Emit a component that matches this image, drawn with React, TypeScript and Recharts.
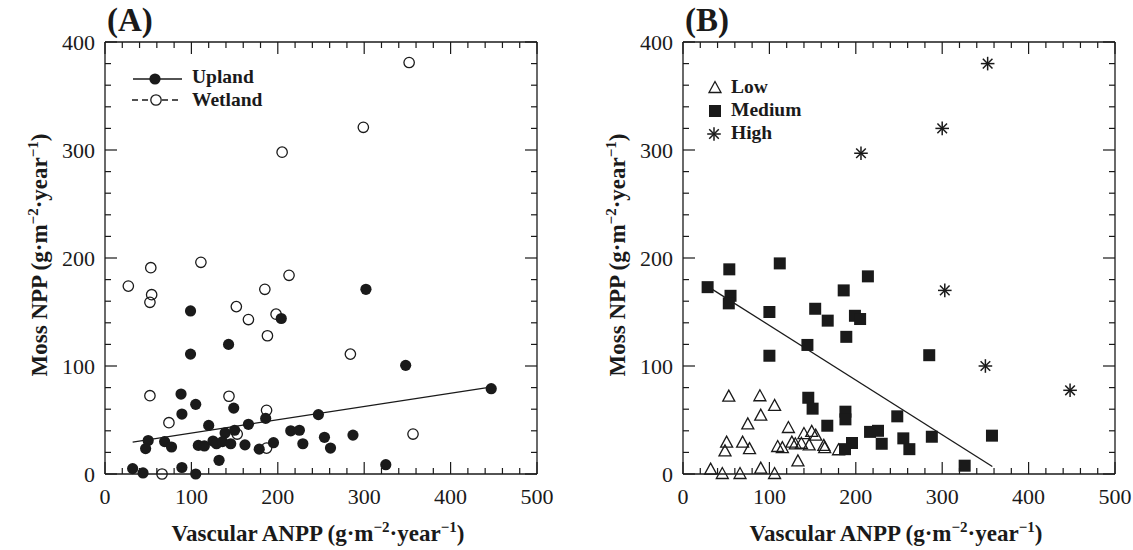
import { ScatterChart, Scatter, XAxis, YAxis, ReferenceLine } from 'recharts';

// Panel A: moss NPP vs vascular ANPP, split by site type
const upland: [number, number][] = [
  [99, 151], [99, 111], [143, 120], [204, 144], [88, 74], [105, 64.5], [89, 55.5], [149, 61],
  [120, 45], [166, 46], [186, 51.5], [139, 38], [150, 40.5], [50, 31], [47, 23.5], [69, 30],
  [77, 25], [108, 26.5], [115, 26], [125, 30.5], [129, 28], [136, 30], [145.5, 28], [162, 27],
  [178.5, 23], [195, 29], [215, 40], [225, 40.5], [229, 28], [132, 12.7], [32, 5], [44, 1],
  [89, 6], [105, 0], [302, 171], [348, 100.6], [447, 79], [247, 55], [254, 34], [261, 24],
  [287, 36], [325, 8.6],
];
const wetland: [number, number][] = [
  [27, 174], [53, 191], [54, 166], [52, 159], [111, 196], [213, 184], [185, 171], [152, 155],
  [166, 143], [198, 148], [188, 128], [52, 72.5], [143.5, 72], [74, 47.5], [187, 59], [153, 37],
  [187, 24], [66, 0], [205, 298], [352, 381], [299, 321], [284, 111], [356.5, 37],
];
const uplandFit: [number, number][] = [[32, 29.5], [450, 81]];

// Panel B: same data split by productivity class
const low: [number, number][] = [
  [53, 71.6], [89, 72], [106, 63], [90, 54], [75, 46], [122, 42.6], [140, 37], [149, 39],
  [153.6, 35.5], [50.5, 29], [48.6, 21], [69, 29], [77, 23], [109.6, 25], [115, 24], [126, 29],
  [130, 27.5], [137, 28], [146, 26.5], [163, 26], [164, 24], [180, 22], [133, 11.7], [32, 4],
  [45.5, 0], [66, 0], [90, 5], [106, 0],
];
const medium: [number, number][] = [
  [28.5, 173], [53.6, 189.5], [55, 165], [53, 158], [112, 195], [214, 183], [186, 170], [153, 153],
  [167.5, 142], [199, 146.5], [205, 143.5], [189, 127], [100, 150], [144, 119.5], [100, 109.5],
  [145, 70.6], [150, 60.5], [188, 57.7], [188, 50.6], [167, 44.7], [216.5, 39], [225.7, 40],
  [230, 28], [195.6, 28.7], [187.5, 23], [285, 110], [248, 53.4], [255, 33], [262, 23],
  [288, 34.5], [357.6, 35.5], [326, 7.7],
];
const high: [number, number][] = [
  [206, 297], [352.6, 380], [300, 320], [303, 170], [350, 100], [448, 77.5],
];
const mediumFit: [number, number][] = [[28, 174], [358, 7]];

const xTicks = [0, 20, 40, 60, 80, 100, 120, 140, 160, 180, 200, 220, 240, 260, 280, 300, 320, 340, 360, 380, 400, 420, 440, 460, 480, 500];
const yTicks = [0, 20, 40, 60, 80, 100, 120, 140, 160, 180, 200, 220, 240, 260, 280, 300, 320, 340, 360, 380, 400];

const INK = '#1a1a1a';
const SERIF = '"Liberation Serif", "Times New Roman", serif';
const PLOT = 432; // plot area is square, in px

const toPts = (a: [number, number][]) => a.map(([x, y]) => ({ x, y }));

const XTick = (props: any) => {
  const { x, y, payload } = props;
  const v = payload.value;
  const major = v % 100 === 0;
  const len = major ? 12 : 6;
  return (
    <g>
      <line x1={x} x2={x} y1={y} y2={y - len} stroke={INK} strokeWidth={1.2} />
      <line x1={x} x2={x} y1={y - PLOT} y2={y - PLOT + len} stroke={INK} strokeWidth={1.2} />
      {major && (
        <text x={x} y={y + 30} textAnchor="middle" fontSize={22} fill={INK} fontFamily={SERIF}>{v}</text>
      )}
    </g>
  );
};

const YTick = (props: any) => {
  const { x, y, payload } = props;
  const v = payload.value;
  const major = v % 100 === 0;
  const len = major ? 12 : 6;
  return (
    <g>
      <line x1={x} x2={x + len} y1={y} y2={y} stroke={INK} strokeWidth={1.2} />
      <line x1={x + PLOT} x2={x + PLOT - len} y1={y} y2={y} stroke={INK} strokeWidth={1.2} />
      {major && (
        <text x={x - 10} y={y} dy="0.35em" textAnchor="end" fontSize={22} fill={INK} fontFamily={SERIF}>{v}</text>
      )}
    </g>
  );
};

const FilledDot = (p: any) => <circle cx={p.cx} cy={p.cy} r={5.6} fill={INK} />;
const OpenDot = (p: any) => <circle cx={p.cx} cy={p.cy} r={5.2} fill="none" stroke={INK} strokeWidth={1.3} />;
const Tri = (p: any) => (
  <polygon
    points={`${p.cx},${p.cy - 6.5} ${p.cx - 6},${p.cy + 4.5} ${p.cx + 6},${p.cy + 4.5}`}
    fill="none" stroke={INK} strokeWidth={1.3}
  />
);
const Square = (p: any) => <rect x={p.cx - 6} y={p.cy - 6} width={12} height={12} fill={INK} />;
const Star = (p: any) => {
  const r = 6.8;
  const d = r * 0.707;
  const { cx, cy } = p;
  return (
    <g stroke={INK} strokeWidth={1.5}>
      <line x1={cx} y1={cy - r} x2={cx} y2={cy + r} />
      <line x1={cx - r} y1={cy} x2={cx + r} y2={cy} />
      <line x1={cx - d} y1={cy - d} x2={cx + d} y2={cy + d} />
      <line x1={cx - d} y1={cy + d} x2={cx + d} y2={cy - d} />
    </g>
  );
};

function Panel({ width, right, children, fit }: { width: number; right: number; children: React.ReactNode; fit: [number, number][] }) {
  return (
    <ScatterChart width={width} height={550} margin={{ top: 42, right, left: 0, bottom: 0 }}>
      <XAxis
        type="number" dataKey="x" domain={[0, 500]} ticks={xTicks} interval={0}
        tickLine={false} tickSize={0} tickMargin={0} height={76}
        axisLine={{ stroke: INK, strokeWidth: 1.3 }} tick={(p: any) => <XTick {...p} />}
      />
      <YAxis
        type="number" dataKey="y" domain={[0, 400]} ticks={yTicks} interval={0}
        tickLine={false} tickSize={0} tickMargin={0} width={105}
        axisLine={{ stroke: INK, strokeWidth: 1.3 }} tick={(p: any) => <YTick {...p} />}
      />
      <ReferenceLine y={400} stroke={INK} strokeWidth={1.3} />
      <ReferenceLine x={500} stroke={INK} strokeWidth={1.3} />
      <ReferenceLine
        segment={[{ x: fit[0][0], y: fit[0][1] }, { x: fit[1][0], y: fit[1][1] }]}
        stroke={INK} strokeWidth={1.3} ifOverflow="visible"
      />
      {children}
    </ScatterChart>
  );
}

const Units = ({ sup }: { sup: number }) => (
  <>
    <tspan>(g·m</tspan>
    <tspan dy={-sup} fontSize={15}>−2</tspan>
    <tspan dy={sup}>·year</tspan>
    <tspan dy={-sup} fontSize={15}>−1</tspan>
    <tspan dy={sup}>)</tspan>
  </>
);

export default function App() {
  const B = 578; // horizontal offset of panel B
  return (
    <div style={{ position: 'absolute', left: 0, top: 0, width: 1133, height: 550, background: '#fff', overflow: 'hidden', fontFamily: SERIF }}>
      <div style={{ position: 'absolute', left: 0, top: 0 }}>
        <Panel width={560} right={23} fit={uplandFit}>
          <Scatter data={toPts(wetland)} shape={OpenDot} isAnimationActive={false} />
          <Scatter data={toPts(upland)} shape={FilledDot} isAnimationActive={false} />
        </Panel>
      </div>
      <div style={{ position: 'absolute', left: B, top: 0 }}>
        <Panel width={555} right={18} fit={mediumFit}>
          <Scatter data={toPts(low)} shape={Tri} isAnimationActive={false} />
          <Scatter data={toPts(medium)} shape={Square} isAnimationActive={false} />
          <Scatter data={toPts(high)} shape={Star} isAnimationActive={false} />
        </Panel>
      </div>
      <svg width={1133} height={550} style={{ position: 'absolute', left: 0, top: 0, pointerEvents: 'none' }} fontFamily={SERIF} fill={INK}>
        {/* panel letters */}
        <text x={107} y={31} fontSize={33} fontWeight="bold">(A)</text>
        <text x={B + 107} y={31} fontSize={33} fontWeight="bold">(B)</text>

        {/* axis titles */}
        {[0, B].map((o) => (
          <g key={o}>
            <text x={o + 318} y={541} textAnchor="middle" fontSize={23} fontWeight="bold">
              Vascular ANPP <Units sup={9} />
            </text>
            <text transform={`translate(${o + 47},255) rotate(-90)`} textAnchor="middle" fontSize={23} fontWeight="bold">
              Moss NPP <Units sup={9} />
            </text>
          </g>
        ))}

        {/* legend A */}
        <line x1={133} x2={182} y1={79} y2={79} stroke={INK} strokeWidth={1.5} />
        <circle cx={155} cy={79} r={5.6} fill={INK} />
        <text x={192} y={83} fontSize={19.5} fontWeight="bold">Upland</text>
        <line x1={132} x2={180} y1={100} y2={100} stroke={INK} strokeWidth={1.5} strokeDasharray="6 4" />
        <circle cx={156} cy={100} r={5.2} fill="#fff" stroke={INK} strokeWidth={1.3} />
        <text x={192} y={106} fontSize={19.5} fontWeight="bold">Wetland</text>

        {/* legend B */}
        <Tri cx={715} cy={88} />
        <text x={731} y={93} fontSize={19.5} fontWeight="bold">Low</text>
        <Square cx={715} cy={111} />
        <text x={731} y={116} fontSize={19.5} fontWeight="bold">Medium</text>
        <Star cx={714} cy={134} />
        <text x={731} y={139} fontSize={19.5} fontWeight="bold">High</text>
      </svg>
    </div>
  );
}
